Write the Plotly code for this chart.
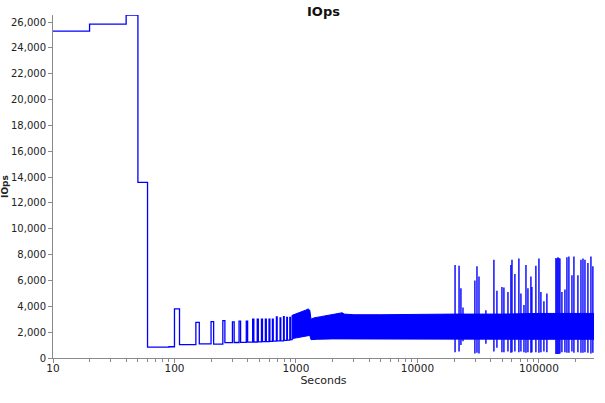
import math
import plotly.graph_objects as go

# ---- data ----
# early phase: step changes (time in seconds, IOps)
step_t = [10, 20, 40, 50, 60, 90, 100, 110, 150, 160, 200, 210, 250, 260, 300, 310, 340, 350,
          390, 400, 440, 450, 480, 490, 520, 530, 560, 570, 600, 610, 640, 650, 690, 700,
          740, 750, 790, 800, 840, 850, 890, 900, 930]
step_v = [25300, 25850, 26550, 13600, 840, 870, 3800, 1040, 2750, 1100, 2820, 1070, 2900, 1190,
          2800, 1200, 2850, 1210, 2850, 1230, 3000, 1240, 3000, 1250, 3000, 1260, 3000, 1270,
          3000, 1280, 3000, 1300, 3180, 1320, 3100, 1330, 3200, 1360, 3150, 1380, 3150, 1420, 3300]

# dense oscillating phase: envelope of the band
band_upper_t = [930, 1000, 1100, 1200, 1260, 1300, 1330, 1400, 1600, 2000, 2300, 2400, 2500,
                3000, 5000, 10000, 20000, 50000, 100000, 284000]
band_upper_v = [3300, 3400, 3550, 3700, 3800, 3700, 3000, 3100, 3200, 3350, 3450, 3500, 3400,
                3350, 3350, 3400, 3400, 3400, 3450, 3450]
band_lower_t = [930, 1000, 1200, 1300, 1330, 1500, 2000, 5000, 10000, 20000, 100000, 284000]
band_lower_v = [1500, 1600, 1700, 1750, 1420, 1450, 1480, 1520, 1500, 1470, 1450, 1450]

# late spikes: time, peak and trough
spike_t = [20400, 22000, 22800, 23700, 29700, 30900, 32100, 36600, 42600, 45100, 49600, 51500,
           55600, 58800, 60000, 63400, 68400, 71100, 75300, 78200, 81200, 85900, 87500, 94400,
           100000, 103800, 109900, 116300, 138000, 140700, 143300, 146200, 148900, 154600,
           163700, 170000, 176500, 187000, 194100, 209400, 221800, 230400, 239300, 253100,
           268000, 278000]
spike_hi = [7200, 7150, 5400, 3900, 6000, 7100, 6300, 3700, 7600, 5200, 5500, 5450,
            5100, 7200, 7600, 6500, 7700, 5000, 4100, 7200, 5400, 6300, 5500, 7150,
            7700, 5100, 4400, 5000, 7750, 7700, 7800, 7750, 7700, 5100,
            5300, 7800, 7850, 6400, 7850, 6400, 7600, 7700, 7600, 7350,
            7850, 7100]
spike_lo = [440, 500, 1000, 1300, 350, 400, 350, 1100, 500, 800, 450, 450,
            500, 400, 450, 500, 450, 500, 450, 400, 450, 400, 450, 450,
            400, 450, 500, 450, 300, 300, 300, 300, 350, 450,
            450, 400, 400, 500, 400, 450, 400, 400, 450, 400,
            350, 400]

x_end = 284000
y_top = 26550

BLUE = "#0000ff"
fig = go.Figure()

fig.add_trace(go.Scatter(
    x=step_t, y=step_v, mode="lines", line=dict(color=BLUE, width=1.3, shape="hv"),
    showlegend=False, hoverinfo="skip"))

fig.add_trace(go.Scatter(
    x=band_upper_t + band_lower_t[::-1], y=band_upper_v + band_lower_v[::-1],
    mode="lines", fill="toself", fillcolor=BLUE, line=dict(color=BLUE, width=1),
    showlegend=False, hoverinfo="skip"))

sx, sy = [], []
for t, hi, lo in zip(spike_t, spike_hi, spike_lo):
    sx += [t, t, None]
    sy += [lo, hi, None]
fig.add_trace(go.Scatter(
    x=sx, y=sy, mode="lines", line=dict(color=BLUE, width=1.4),
    showlegend=False, hoverinfo="skip"))

AX = "#8a8a8a"
fig.update_layout(
    width=605, height=403,
    margin=dict(l=53, r=11, t=15, b=45, autoexpand=False),
    paper_bgcolor="white", plot_bgcolor="white",
    font=dict(family="DejaVu Sans", color="#222"),
    title=dict(text="<b>IOps</b>", x=0.5, xref="paper", y=1 - 11 / 403, yref="container",
               yanchor="middle", xanchor="center",
               font=dict(family="DejaVu Sans", size=13, color="#111")),
    xaxis=dict(
        type="log", range=[1, math.log10(x_end)], dtick=1, tickformat="d",
        automargin=False,
        showgrid=False, zeroline=False, showline=True, linecolor=AX, linewidth=1,
        ticks="outside", ticklen=4, tickcolor=AX, ticklabelstandoff=-4,
        minor=dict(ticks="outside", ticklen=3, tickcolor=AX, dtick="D1", showgrid=False),
        tickfont=dict(size=10.5, color="#222"),
        title=dict(text="Seconds", font=dict(size=11, color="#222"), standoff=2),
    ),
    yaxis=dict(
        range=[0, y_top], dtick=2000, tickformat=",",
        automargin=False,
        showgrid=False, zeroline=False, showline=True, linecolor=AX, linewidth=1,
        ticks="outside", ticklen=4, tickcolor=AX,
        tickfont=dict(size=10, color="#222"),
        title=dict(text="<b>IOps</b>", font=dict(size=9, color="#222"), standoff=1),
    ),
)

fig.write_html("out.html")
